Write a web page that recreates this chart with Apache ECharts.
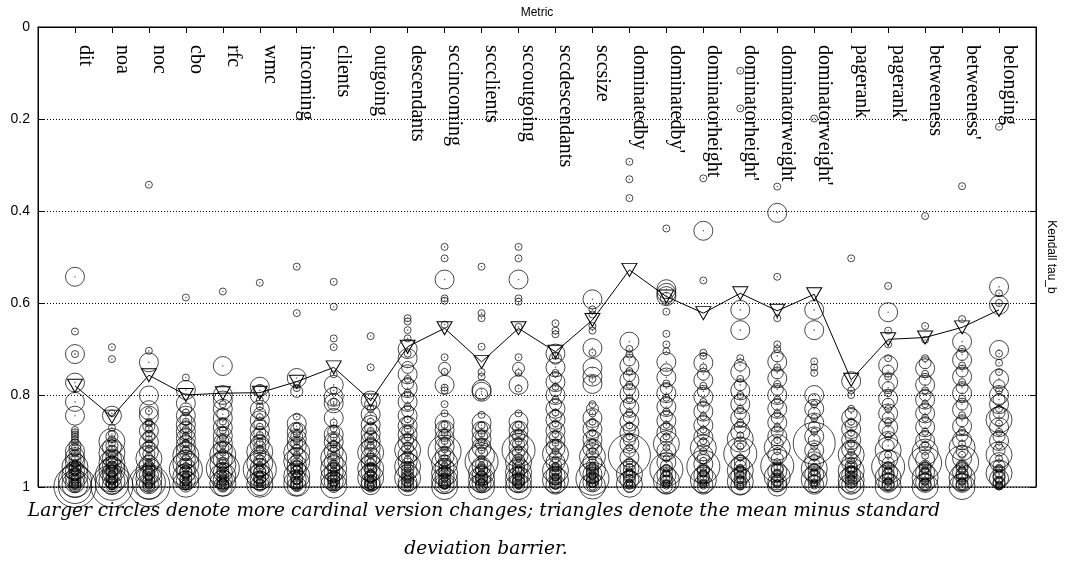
<!DOCTYPE html>
<html><head><meta charset="utf-8">
<script src="https://cdn.jsdelivr.net/npm/echarts@6/dist/echarts.min.js"></script>
<style>html,body{margin:0;padding:0;background:#fff}#c{width:1065px;height:576px}</style>
</head><body><div id="c"></div>
<script>
// Category names (x axis)
const categories = ["dit","noa","noc","cbo","rfc","wmc","incoming","clients","outgoing","descendants","sccincoming","sccclients","sccoutgoing","sccdescendants","sccsize","dominatedby","dominatedby'","dominatorheight","dominatorheight'","dominatorweight","dominatorweight'","pagerank","pagerank'","betweeness","betweeness'","belonging"];
// Y tick labels
const yTicks = [0, 0.2, 0.4, 0.6, 0.8, 1];
// Mean minus standard deviation barrier (triangles)
const barrier = [0.780,0.847,0.757,0.800,0.796,0.795,0.771,0.740,0.812,0.695,0.655,0.728,0.655,0.706,0.637,0.528,0.586,0.622,0.579,0.617,0.581,0.767,0.679,0.675,0.653,0.615];

// Per-metric observations: [Kendall tau_b, version-change cardinality class 1..6]
const dit = [[.543,3],[.662,1],[.711,1],[.711,3],[.773,3],[.815,3],[.845,3],[.876,1],[.881,1],[.886,1],[.891,1],[.897,1],[.903,1],[.909,2],[.914,1],[.918,2],[.922,3],[.927,1],[.931,2],[.935,3],[.939,1],[.943,2],[.946,3],[.950,1],[.953,2],[.956,4],[.959,1],[.962,2],[.965,3],[.968,1],[.971,2],[.974,4],[.977,1],[.980,3],[.983,2],[.986,5],[.989,1],[.992,3],[.995,4],[.997,2],[.999,6],[1.0,5],[.951,1],[.961,2],[.967,1],[.973,2],[.979,1],[.984,1],[.988,2],[.991,1],[.994,2],[.996,1],[.998,1],[.999,2]];
const noa = [[.696,1],[.722,1],[.845,3],[.840,1],[.871,1],[.885,1],[.890,2],[.896,1],[.901,4],[.905,1],[.910,2],[.914,3],[.918,1],[.922,2],[.926,4],[.930,1],[.934,2],[.938,3],[.941,1],[.944,2],[.948,4],[.951,1],[.954,3],[.957,2],[.960,1],[.963,4],[.966,2],[.969,3],[.972,1],[.975,5],[.978,2],[.981,3],[.984,1],[.987,4],[.990,2],[.993,5],[.996,3],[.999,1],[.998,6],[.950,2],[.958,1],[.965,2],[.971,1],[.977,1],[.982,2],[.986,1],[.989,1],[.992,2],[.995,1],[.997,2],[.999,1]];
const noc = [[.343,1],[.704,1],[.729,3],[.801,3],[.833,3],[.835,1],[.845,3],[.858,1],[.862,1],[.868,2],[.873,1],[.878,3],[.884,1],[.890,2],[.896,1],[.902,3],[.907,1],[.912,2],[.918,1],[.923,3],[.928,2],[.933,1],[.938,4],[.943,2],[.948,1],[.952,3],[.957,2],[.962,1],[.966,4],[.970,2],[.974,3],[.978,1],[.982,4],[.986,2],[.990,5],[.994,3],[.997,6],[.999,4],[.955,1],[.960,2],[.968,1],[.972,2],[.980,1],[.984,1],[.988,2],[.992,1],[.995,2],[.996,1],[.998,1],[.999,2]];
const cbo = [[.588,1],[.762,1],[.789,3],[.818,3],[.83,2],[.838,1],[.845,3],[.852,2],[.858,1],[.864,3],[.869,2],[.874,1],[.879,3],[.884,2],[.889,1],[.894,3],[.899,2],[.904,1],[.909,3],[.913,2],[.918,1],[.922,3],[.927,2],[.931,4],[.936,1],[.940,3],[.945,2],[.949,4],[.954,1],[.958,3],[.962,5],[.966,2],[.970,3],[.974,1],[.978,4],[.982,2],[.986,3],[.990,1],[.994,4],[.998,2],[.952,2],[.960,1],[.968,2],[.976,1],[.980,1],[.984,2],[.988,1],[.992,2],[.996,1],[.999,1]];
const rfc = [[.575,1],[.737,3],[.8,3],[.812,3],[.82,1],[.83,3],[.842,2],[.85,3],[.858,1],[.865,2],[.871,3],[.877,1],[.883,2],[.889,3],[.894,1],[.9,2],[.905,3],[.91,1],[.915,2],[.92,3],[.925,1],[.93,4],[.935,2],[.94,3],[.944,1],[.948,2],[.952,4],[.956,1],[.96,5],[.964,2],[.968,3],[.972,1],[.976,4],[.98,2],[.984,3],[.988,1],[.992,4],[.996,2],[.999,3],[.954,2],[.962,1],[.970,2],[.978,1],[.982,1],[.986,2],[.990,1],[.994,2],[.997,1],[.998,2]];
const wmc = [[.556,1],[.782,3],[.79,2],[.80,3],[.811,1],[.825,1],[.832,3],[.84,2],[.848,1],[.855,3],[.862,2],[.869,1],[.875,3],[.881,2],[.887,1],[.893,3],[.898,2],[.903,1],[.908,3],[.913,2],[.918,1],[.923,4],[.928,2],[.933,3],[.938,1],[.943,2],[.948,4],[.953,1],[.958,3],[.962,5],[.966,2],[.970,3],[.974,1],[.978,4],[.982,2],[.986,3],[.990,1],[.994,4],[.998,3],[.951,2],[.960,1],[.968,2],[.976,1],[.980,2],[.984,1],[.988,2],[.992,1],[.996,2],[.999,1]];
const incoming = [[.521,1],[.622,1],[.763,3],[.778,1],[.785,1],[.792,2],[.847,1],[.862,3],[.868,1],[.874,2],[.88,3],[.885,1],[.89,2],[.895,3],[.9,1],[.905,2],[.91,3],[.915,1],[.92,2],[.925,4],[.93,1],[.935,3],[.94,2],[.944,4],[.948,1],[.952,3],[.956,2],[.96,1],[.964,3],[.968,2],[.972,1],[.976,4],[.98,2],[.984,3],[.988,1],[.992,4],[.995,2],[.998,3],[.950,2],[.958,1],[.966,2],[.974,1],[.982,2],[.986,1],[.990,2],[.994,1],[.997,2],[.999,1]];
const clients = [[.554,1],[.608,1],[.677,1],[.696,1],[.755,1],[.778,3],[.79,1],[.804,3],[.815,1],[.818,3],[.82,2],[.85,3],[.86,1],[.873,1],[.88,2],[.886,3],[.892,1],[.897,2],[.902,3],[.907,1],[.912,2],[.917,1],[.922,3],[.927,2],[.932,1],[.937,4],[.942,2],[.946,3],[.95,1],[.955,2],[.96,4],[.964,1],[.968,3],[.972,2],[.976,1],[.98,4],[.984,2],[.988,3],[.992,1],[.996,4],[.999,2],[.953,1],[.962,2],[.970,1],[.978,2],[.982,1],[.986,2],[.990,1],[.994,2],[.997,1],[.998,1]];
const outgoing = [[.672,1],[.74,1],[.812,3],[.82,2],[.83,1],[.842,3],[.85,2],[.858,1],[.865,3],[.872,2],[.878,1],[.884,3],[.889,2],[.895,1],[.9,3],[.905,2],[.91,1],[.915,3],[.92,2],[.925,4],[.93,1],[.935,3],[.94,2],[.944,1],[.948,3],[.952,2],[.956,1],[.96,4],[.964,2],[.968,3],[.972,1],[.976,2],[.98,4],[.984,1],[.988,3],[.992,2],[.996,3],[.999,1],[.954,1],[.962,2],[.970,1],[.978,2],[.982,1],[.986,2],[.990,1],[.994,2],[.997,1],[.998,2]];
const descendants = [[.633,1],[.64,1],[.659,1],[.677,1],[.7,3],[.72,3],[.71,1],[.74,2],[.755,3],[.765,1],[.775,2],[.785,3],[.795,1],[.805,2],[.815,3],[.825,1],[.835,2],[.845,3],[.853,1],[.86,2],[.867,3],[.874,1],[.88,2],[.886,3],[.892,1],[.898,2],[.904,3],[.91,1],[.915,2],[.92,4],[.925,1],[.93,3],[.935,2],[.94,1],[.945,3],[.95,2],[.955,4],[.96,1],[.965,3],[.97,2],[.975,1],[.98,4],[.985,2],[.99,3],[.995,1],[.998,3],[.952,1],[.962,2],[.968,1],[.978,2],[.983,1],[.988,2],[.992,1],[.996,2],[.999,1]];
const sccincoming = [[.478,1],[.503,1],[.549,3],[.59,1],[.595,1],[.647,1],[.718,1],[.742,2],[.75,1],[.778,3],[.784,1],[.79,1],[.82,1],[.84,1],[.86,3],[.865,1],[.87,2],[.876,3],[.882,1],[.888,2],[.894,3],[.9,1],[.906,2],[.912,3],[.918,1],[.923,5],[.928,2],[.933,3],[.938,1],[.943,2],[.948,4],[.953,1],[.958,3],[.962,2],[.966,1],[.97,4],[.974,2],[.978,3],[.982,1],[.986,4],[.99,2],[.994,3],[.997,1],[.999,4],[.951,2],[.960,1],[.968,2],[.976,1],[.984,2],[.988,1],[.992,2],[.996,1],[.998,2]];
const sccclients = [[.521,1],[.622,1],[.633,1],[.695,1],[.75,1],[.76,1],[.788,3],[.793,3],[.798,2],[.843,1],[.86,3],[.866,1],[.872,2],[.878,3],[.884,1],[.89,2],[.896,3],[.902,1],[.908,2],[.914,3],[.92,1],[.926,2],[.932,4],[.938,1],[.945,5],[.95,2],[.955,3],[.96,1],[.964,2],[.968,4],[.972,1],[.976,3],[.98,2],[.984,4],[.988,1],[.992,3],[.996,2],[.999,4],[.953,1],[.962,2],[.970,1],[.978,2],[.982,1],[.986,2],[.990,1],[.994,2],[.997,1],[.998,2]];
const sccoutgoing = [[.478,1],[.503,1],[.549,3],[.59,1],[.597,1],[.652,1],[.718,1],[.742,2],[.752,1],[.778,3],[.786,1],[.84,1],[.858,3],[.865,1],[.871,2],[.877,3],[.883,1],[.889,2],[.895,3],[.901,1],[.907,2],[.913,3],[.918,1],[.92,5],[.926,2],[.931,3],[.936,1],[.941,2],[.946,4],[.951,1],[.956,3],[.96,2],[.964,1],[.968,4],[.972,2],[.976,3],[.98,1],[.984,4],[.988,2],[.992,3],[.996,1],[.999,4],[.953,2],[.962,1],[.970,2],[.978,1],[.982,2],[.986,1],[.990,2],[.994,1],[.997,2],[.998,1]];
const sccdescendants = [[.644,1],[.66,1],[.668,1],[.71,3],[.715,1],[.72,2],[.74,3],[.752,1],[.762,2],[.772,3],[.782,1],[.79,2],[.8,3],[.81,1],[.82,2],[.83,3],[.838,1],[.846,2],[.854,3],[.862,1],[.87,2],[.878,3],[.885,1],[.892,2],[.898,3],[.904,1],[.91,2],[.916,3],[.922,1],[.928,4],[.934,2],[.94,1],[.946,3],[.952,2],[.958,1],[.964,4],[.97,2],[.975,3],[.98,1],[.985,4],[.99,2],[.995,3],[.999,2],[.955,1],[.961,2],[.968,1],[.973,2],[.978,1],[.983,2],[.988,1],[.992,2],[.997,1]];
const sccsize = [[.592,3],[.614,1],[.625,1],[.65,1],[.66,1],[.698,3],[.708,1],[.741,3],[.76,3],[.776,3],[.765,1],[.82,1],[.83,2],[.84,1],[.85,3],[.858,1],[.866,2],[.874,3],[.882,1],[.89,2],[.897,3],[.904,1],[.91,2],[.916,3],[.922,1],[.928,2],[.934,4],[.94,1],[.946,3],[.952,2],[.957,1],[.962,4],[.967,2],[.972,3],[.977,1],[.982,5],[.986,2],[.99,3],[.994,1],[.998,4],[.955,1],[.960,2],[.965,1],[.970,2],[.975,1],[.980,2],[.984,1],[.988,2],[.992,1],[.996,2],[.999,1]];
const dominatedby = [[.293,1],[.331,1],[.372,1],[.684,3],[.7,1],[.712,1],[.724,2],[.736,3],[.748,1],[.758,2],[.768,3],[.778,1],[.788,2],[.798,3],[.808,1],[.818,2],[.828,3],[.838,1],[.848,2],[.858,3],[.866,1],[.874,2],[.882,3],[.89,1],[.898,2],[.906,3],[.914,1],[.93,6],[.922,2],[.936,3],[.944,1],[.952,2],[.96,3],[.966,1],[.972,4],[.978,2],[.984,3],[.99,1],[.994,4],[.998,2],[.956,1],[.963,2],[.969,1],[.975,2],[.981,1],[.987,2],[.991,1],[.996,1],[.999,2]];
const dominatedbyP = [[.438,1],[.57,3],[.578,3],[.585,3],[.59,2],[.619,1],[.667,1],[.69,1],[.705,1],[.728,3],[.745,2],[.762,3],[.775,1],[.786,2],[.796,3],[.806,1],[.816,2],[.826,3],[.836,1],[.846,2],[.856,3],[.865,1],[.874,2],[.882,3],[.89,1],[.898,2],[.906,4],[.914,1],[.922,3],[.93,2],[.938,1],[.946,3],[.954,2],[.962,5],[.968,1],[.974,3],[.98,2],[.986,4],[.991,1],[.995,3],[.999,2],[.958,1],[.965,2],[.971,1],[.977,2],[.983,1],[.988,2],[.993,1],[.997,1]];
const dominatorheight = [[.329,1],[.443,3],[.551,1],[.708,1],[.715,1],[.73,3],[.74,1],[.755,2],[.768,3],[.78,1],[.792,2],[.804,3],[.815,1],[.826,2],[.836,3],[.846,1],[.856,2],[.866,3],[.875,1],[.884,2],[.892,3],[.9,1],[.908,2],[.915,4],[.922,1],[.929,3],[.936,2],[.943,1],[.95,3],[.956,5],[.962,2],[.968,1],[.974,3],[.98,2],[.985,4],[.99,1],[.995,3],[.999,2],[.959,1],[.965,2],[.971,1],[.977,2],[.983,1],[.988,2],[.993,1],[.997,1]];
const dominatorheightP = [[.095,1],[.177,1],[.615,3],[.659,3],[.72,1],[.735,2],[.75,3],[.765,1],[.778,2],[.79,3],[.8,1],[.81,2],[.82,3],[.83,1],[.84,2],[.85,3],[.86,1],[.87,2],[.88,3],[.888,1],[.896,4],[.904,2],[.912,1],[.92,3],[.928,5],[.936,1],[.944,2],[.952,3],[.958,1],[.964,4],[.97,2],[.976,3],[.982,1],[.988,4],[.993,2],[.997,3],[.999,1],[.955,2],[.961,1],[.967,2],[.973,1],[.979,2],[.985,1],[.990,2],[.995,1]];
const dominatorweight = [[.347,1],[.404,3],[.543,1],[.633,1],[.69,1],[.7,1],[.715,2],[.728,3],[.74,1],[.752,2],[.764,3],[.776,1],[.788,2],[.8,3],[.81,1],[.82,2],[.83,3],[.84,1],[.85,2],[.86,3],[.87,1],[.88,2],[.89,3],[.898,1],[.906,2],[.914,4],[.922,1],[.93,3],[.938,2],[.946,1],[.954,5],[.96,2],[.966,3],[.972,1],[.978,4],[.984,2],[.99,3],[.995,1],[.999,3],[.957,1],[.963,2],[.969,1],[.975,2],[.981,1],[.987,2],[.992,1],[.997,2]];
const dominatorweightP = [[.199,1],[.615,3],[.659,3],[.727,1],[.74,1],[.752,1],[.8,3],[.81,2],[.82,1],[.83,3],[.84,2],[.85,1],[.86,3],[.87,2],[.88,1],[.89,3],[.905,6],[.898,2],[.912,1],[.92,3],[.928,2],[.936,1],[.944,3],[.952,2],[.96,4],[.966,1],[.972,3],[.978,2],[.984,4],[.99,1],[.995,3],[.999,2],[.956,1],[.963,2],[.969,1],[.975,2],[.981,1],[.987,2],[.992,1],[.997,1]];
const pagerank = [[.503,1],[.77,3],[.79,1],[.8,1],[.83,1],[.84,2],[.85,3],[.858,1],[.866,2],[.874,3],[.882,1],[.89,2],[.898,3],[.906,1],[.912,2],[.918,3],[.924,1],[.93,4],[.936,2],[.942,1],[.948,3],[.954,2],[.96,1],[.965,4],[.97,2],[.975,3],[.98,1],[.985,4],[.99,2],[.995,3],[.999,4],[.952,1],[.958,2],[.963,1],[.968,2],[.973,1],[.978,2],[.983,1],[.988,2],[.993,1],[.997,2]];
const pagerankP = [[.563,1],[.62,3],[.66,1],[.69,1],[.72,1],[.735,3],[.748,2],[.76,1],[.772,3],[.784,2],[.796,1],[.808,3],[.82,2],[.83,1],[.84,3],[.85,2],[.86,1],[.87,3],[.88,2],[.89,1],[.9,3],[.91,2],[.92,4],[.93,1],[.94,3],[.948,2],[.956,5],[.962,1],[.968,3],[.974,2],[.98,4],[.986,1],[.991,3],[.996,2],[.999,4],[.952,1],[.959,2],[.965,1],[.971,2],[.977,1],[.983,2],[.989,1],[.994,2],[.998,1]];
const betweeness = [[.411,1],[.65,1],[.68,1],[.72,1],[.73,2],[.742,3],[.754,1],[.766,2],[.778,3],[.79,1],[.8,2],[.81,3],[.82,1],[.83,2],[.84,3],[.85,1],[.86,2],[.87,3],[.88,1],[.89,2],[.9,3],[.908,1],[.916,2],[.924,4],[.932,1],[.94,3],[.948,5],[.955,2],[.962,1],[.968,3],[.974,2],[.98,4],[.986,1],[.991,3],[.996,2],[.999,4],[.952,1],[.959,2],[.965,1],[.971,2],[.977,1],[.983,2],[.989,1],[.994,2],[.998,1]];
const betweenessP = [[.346,1],[.635,1],[.684,3],[.7,1],[.712,2],[.724,3],[.736,1],[.748,2],[.76,3],[.772,1],[.784,2],[.796,3],[.808,1],[.82,2],[.832,3],[.844,1],[.856,2],[.868,3],[.878,1],[.888,2],[.898,3],[.906,1],[.914,4],[.922,2],[.93,1],[.938,3],[.946,5],[.954,2],[.962,1],[.968,3],[.974,2],[.98,4],[.986,1],[.991,3],[.996,2],[.999,4],[.950,1],[.958,2],[.965,1],[.971,2],[.977,1],[.983,2],[.989,1],[.994,2],[.998,1]];
const belonging = [[.217,1],[.565,3],[.579,1],[.604,3],[.6,1],[.702,3],[.71,1],[.73,1],[.75,1],[.765,3],[.78,2],[.79,1],[.8,3],[.81,2],[.82,3],[.83,1],[.838,2],[.846,3],[.854,4],[.862,1],[.87,3],[.88,1],[.89,2],[.9,3],[.91,1],[.92,2],[.93,4],[.938,1],[.946,3],[.954,2],[.962,1],[.97,4],[.976,2],[.982,3],[.988,1],[.993,2],[.997,1],[.958,1],[.966,2],[.973,1],[.979,2],[.985,1],[.990,2],[.995,1],[.999,1]];

const columns = [dit,noa,noc,cbo,rfc,wmc,incoming,clients,outgoing,descendants,sccincoming,sccclients,sccoutgoing,sccdescendants,sccsize,dominatedby,dominatedbyP,dominatorheight,dominatorheightP,dominatorweight,dominatorweightP,pagerank,pagerankP,betweeness,betweenessP,belonging];

// style: circle diameter per cardinality class
const SIZE_PX = [0, 7, 12, 19, 26, 33, 42];

const points = [];
columns.forEach((col, i) => col.forEach(([v, s]) => points.push([i + 1, v, s])));
const barrierData = barrier.map((v, i) => [i + 1, v]);

const chart = echarts.init(document.getElementById('c'), null, {renderer: 'canvas'});
const serif = '"Liberation Serif", "DejaVu Serif", serif';
const sans = '"Liberation Sans", Arial, sans-serif';
chart.setOption({
  animation: false,
  backgroundColor: '#fff',
  grid: {left: 38, right: 25, top: 27, bottom: 89, show: true, borderColor: '#000', borderWidth: 1, backgroundColor: 'transparent'},
  xAxis: {
    type: 'value', position: 'top', min: 0, max: categories.length + 1, interval: 1,
    name: 'Metric', nameLocation: 'middle', nameGap: 8,
    nameTextStyle: {fontFamily: sans, fontSize: 12, color: '#000'},
    axisLine: {show: true, lineStyle: {color: '#000', width: 1}},
    axisTick: {show: true, inside: true, length: 6, lineStyle: {color: '#000'}},
    splitLine: {show: false},
    axisLabel: {
      inside: true, rotate: -90, margin: 18, verticalAlign: 'bottom',
      fontFamily: serif, fontSize: 20, color: '#000',
      formatter: v => categories[v - 1] || ''
    }
  },
  yAxis: [{
    type: 'value', inverse: true, min: 0, max: 1, interval: 0.2, position: 'left',
    axisLine: {show: true, lineStyle: {color: '#000'}},
    axisTick: {show: true, inside: true, length: 6, lineStyle: {color: '#000'}},
    splitLine: {show: true, lineStyle: {color: '#000', type: [1, 2], width: 1}},
    axisLabel: {fontFamily: sans, fontSize: 14, color: '#000', margin: 8,
      formatter: v => { const t = yTicks.find(x => Math.abs(x - v) < 1e-6); return t === undefined ? '' : String(t); }}
  }, {
    type: 'value', inverse: true, min: 0, max: 1, interval: 0.2, position: 'right',
    name: 'Kendall tau_b', nameLocation: 'middle', nameRotate: -90, nameGap: 9,
    nameTextStyle: {fontFamily: sans, fontSize: 12, color: '#000'},
    axisLine: {show: true, lineStyle: {color: '#000'}},
    axisTick: {show: true, inside: true, length: 6, lineStyle: {color: '#000'}},
    splitLine: {show: false},
    axisLabel: {show: false}
  }],
  graphic: [
    {type: 'text', x: 484, y: 502, style: {text: 'Larger circles denote more cardinal version changes; triangles denote the mean minus standard', font: 'italic 18.6px "DejaVu Serif", serif', fill: '#000', textAlign: 'center'}},
    {type: 'text', x: 486, y: 540, style: {text: 'deviation barrier.', font: 'italic 18.6px "DejaVu Serif", serif', fill: '#000', textAlign: 'center'}}
  ],
  series: [
    {type: 'scatter', data: points, symbol: 'circle', symbolSize: d => SIZE_PX[d[2]], silent: true,
     itemStyle: {color: 'rgba(0,0,0,0)', borderColor: '#000', borderWidth: 0.9}, z: 2, large: false, progressive: 0},
    {type: 'scatter', data: points, symbol: 'circle', symbolSize: 1.6, silent: true,
     itemStyle: {color: '#444'}, z: 3, progressive: 0},
    {type: 'line', data: barrierData, symbol: 'triangle', symbolRotate: 180, symbolSize: [15, 13], showSymbol: true, silent: true,
     lineStyle: {color: '#000', width: 1}, itemStyle: {color: 'rgba(0,0,0,0)', borderColor: '#000', borderWidth: 1}, z: 4}
  ]
});
</script></body></html>
